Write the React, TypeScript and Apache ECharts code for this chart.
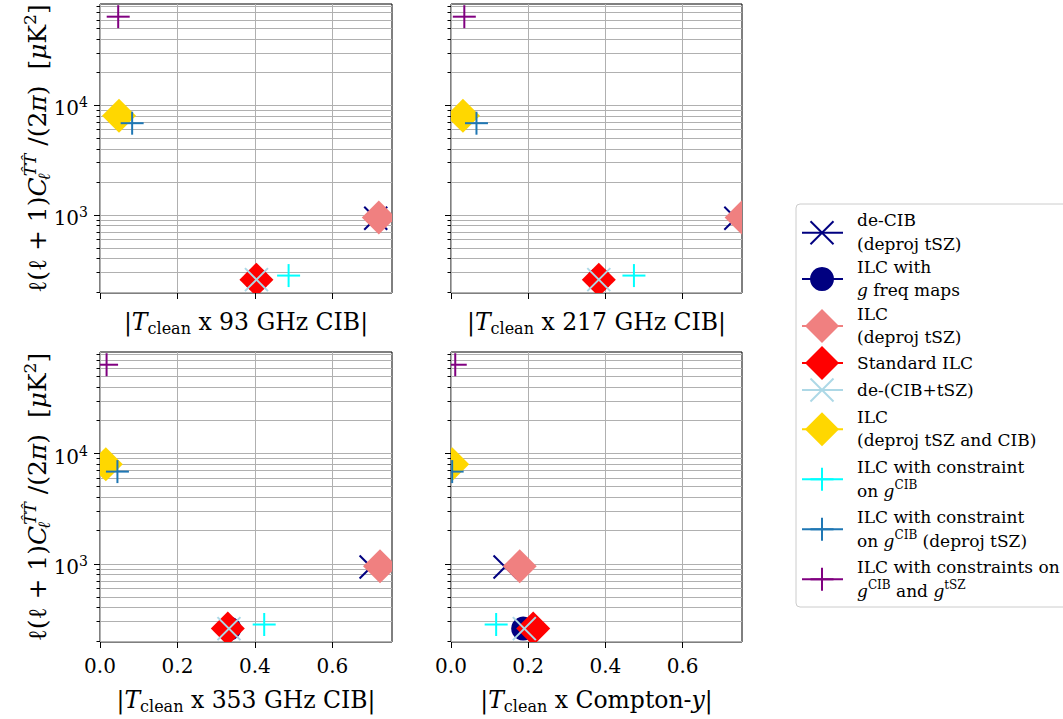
import React, { useEffect, useRef } from 'react';
import * as echarts from 'echarts';

// ---------------- data ----------------
const panelLabels = ['93 GHz CIB', '217 GHz CIB', '353 GHz CIB', 'Compton-y'];

const methodNames = [
  'de-CIB (deproj tSZ)',
  'ILC with g freq maps',
  'ILC (deproj tSZ)',
  'Standard ILC',
  'de-(CIB+tSZ)',
  'ILC (deproj tSZ and CIB)',
  'ILC with constraint on g^CIB',
  'ILC with constraint on g^CIB (deproj tSZ)',
  'ILC with constraints on g^CIB and g^tSZ',
];
const methodColors = ['#000080', '#000080', '#F08080', '#FF0000', '#ADD8E6', '#FFD700', '#00FFFF', '#1f77b4', '#800080'];
const methodMarkers = ['x', 'o', 'D', 'D', 'x', 'D', '+', '+', '+'];

// l(l+1)C_l/(2pi) of each method [uK^2]
const powerValues = [935, 258, 950, 258, 258, 8000, 281, 6860, 64000];

// |T_clean x tracer| for each panel, in method order
const x93 = [0.712, 0.404, 0.72, 0.404, 0.404, 0.049, 0.487, 0.083, 0.047];
const x217 = [0.738, 0.383, 0.753, 0.383, 0.383, 0.031, 0.474, 0.066, 0.0345];
const x353 = [0.7, 0.334, 0.723, 0.33, 0.333, 0.015, 0.424, 0.045, 0.017];
const xCompton = [0.14, 0.187, 0.178, 0.213, 0.19, 0.003, 0.117, 0.003, 0.011];
const panelX = [x93, x217, x353, xCompton];

const xTicks = [0, 0.2, 0.4, 0.6];
const yMajorTicks = [1000, 10000];
const yMinorTicks = [200, 300, 400, 500, 600, 700, 800, 900, 2000, 3000, 4000, 5000, 6000, 7000, 8000, 9000,
  20000, 30000, 40000, 50000, 60000, 70000, 80000];
const xMin = 0;
const xMax = 0.754;
const yMin = 195;
const yMax = 83500;

const legendLines = [
  ['{n|de-CIB}', '{n|(deproj tSZ)}'],
  ['{n|ILC with}', '{i|g}{n| freq maps}'],
  ['{n|ILC}', '{n|(deproj tSZ)}'],
  ['{n|Standard ILC}'],
  ['{n|de-(CIB+tSZ)}'],
  ['{n|ILC}', '{n|(deproj tSZ and CIB)}'],
  ['{n|ILC with constraint}', '{m|on }{mi|g}{sp|CIB}'],
  ['{n|ILC with constraint}', '{m|on }{mi|g}{sp|CIB}{m| (deproj tSZ)}'],
  ['{n|ILC with constraints on}', '{mi|g}{sp|CIB}{m| and }{mi|g}{sp|tSZ}'],
];

// ---------------- layout / style ----------------
const FF = 'DejaVu Serif';
const grids = [
  { left: 100, top: 4, width: 292, height: 289 },
  { left: 451, top: 4, width: 291, height: 289 },
  { left: 100, top: 352, width: 292, height: 290 },
  { left: 451, top: 352, width: 291, height: 290 },
];
const gridColor = '#b0b0b0';
const DIAMOND_HALF = 17;
const CIRCLE_R = 12;
const CROSS_HALF = 11.5;
const MARK_LW = 2;

function markerShape(mk: string, c: string, px: number, py: number) {
  if (mk === 'D') {
    const h = DIAMOND_HALF;
    return { type: 'polygon', shape: { points: [[px, py - h], [px + h, py], [px, py + h], [px - h, py]] }, style: { fill: c } };
  }
  if (mk === 'o') {
    return { type: 'circle', shape: { cx: px, cy: py, r: CIRCLE_R }, style: { fill: c } };
  }
  const h = CROSS_HALF;
  const st = { stroke: c, lineWidth: MARK_LW, fill: null };
  if (mk === 'x') {
    return {
      type: 'group',
      children: [
        { type: 'line', shape: { x1: px - h, y1: py - h, x2: px + h, y2: py + h }, style: st },
        { type: 'line', shape: { x1: px - h, y1: py + h, x2: px + h, y2: py - h }, style: st },
      ],
    };
  }
  return {
    type: 'group',
    children: [
      { type: 'line', shape: { x1: px, y1: py - h, x2: px, y2: py + h }, style: st },
      { type: 'line', shape: { x1: px - h, y1: py, x2: px + h, y2: py }, style: st },
    ],
  };
}

const tickRich = {
  b: { fontFamily: FF, fontSize: 20, lineHeight: 20, padding: [3, 0, 0, 0], verticalAlign: 'top', color: '#000' },
  s: { fontFamily: FF, fontSize: 14, lineHeight: 14, verticalAlign: 'top', color: '#000' },
};

const titleRich = {
  n: { fontFamily: FF, fontSize: 23.5, lineHeight: 23.5, verticalAlign: 'top', fill: '#000' },
  i: { fontFamily: FF, fontSize: 23.5, lineHeight: 23.5, verticalAlign: 'top', fontStyle: 'italic', fill: '#000' },
  sb: { fontFamily: FF, fontSize: 16, lineHeight: 16, padding: [10, 0, 0, 0], verticalAlign: 'top', fill: '#000' },
};

const ylabRich = {
  n: { fontFamily: FF, fontSize: 25, lineHeight: 25, padding: [3, 0, 0, 0], verticalAlign: 'top', fill: '#000' },
  i: { fontFamily: FF, fontSize: 25, lineHeight: 25, padding: [3, 0, 0, 0], verticalAlign: 'top', fontStyle: 'italic', fill: '#000' },
  sb: { fontFamily: FF, fontSize: 17, lineHeight: 17, padding: [14, 0, 0, 0], width: 1, verticalAlign: 'top', fontStyle: 'italic', fill: '#000' },
  sp: { fontFamily: FF, fontSize: 17, lineHeight: 17, verticalAlign: 'top', fontStyle: 'italic', fill: '#000' },
  sr: { fontFamily: FF, fontSize: 17, lineHeight: 17, verticalAlign: 'top', fill: '#000' },
};

const legendRich = {
  n: { fontFamily: FF, fontSize: 17, lineHeight: 17, verticalAlign: 'top', fill: '#000' },
  i: { fontFamily: FF, fontSize: 17, lineHeight: 17, verticalAlign: 'top', fontStyle: 'italic', fill: '#000' },
  m: { fontFamily: FF, fontSize: 17, lineHeight: 17, padding: [3, 0, 0, 0], verticalAlign: 'top', fill: '#000' },
  mi: { fontFamily: FF, fontSize: 17, lineHeight: 17, padding: [3, 0, 0, 0], verticalAlign: 'top', fontStyle: 'italic', fill: '#000' },
  sp: { fontFamily: FF, fontSize: 12, lineHeight: 12, verticalAlign: 'top', fill: '#000' },
};

function buildOption() {
  const grid = grids.map((g) => ({ ...g, show: true, borderColor: '#000', borderWidth: 1, backgroundColor: 'transparent' }));

  const xAxis = grids.map((_, p) => ({
    type: 'value',
    gridIndex: p,
    min: xMin,
    max: xMax,
    interval: 0.2,
    axisLine: { show: false },
    axisTick: { show: true, customValues: xTicks, length: 6, lineStyle: { color: '#000', width: 1 } },
    axisLabel: {
      show: p >= 2,
      customValues: xTicks,
      formatter: (v: number) => v.toFixed(1),
      fontFamily: FF,
      fontSize: 20,
      color: '#000',
      margin: 14,
    },
    splitLine: { show: true, lineStyle: { color: gridColor, width: 1 } },
  }));

  const yAxis: any[] = [];
  grids.forEach((_, p) => {
    yAxis.push({
      type: 'log',
      logBase: 10,
      gridIndex: p,
      position: 'left',
      min: yMin,
      max: yMax,
      axisLine: { show: false },
      axisTick: { show: true, customValues: yMajorTicks, length: 6, lineStyle: { color: '#000', width: 1 } },
      axisLabel: {
        show: p % 2 === 0,
        customValues: yMajorTicks,
        margin: 12,
        formatter: (v: number) => `{b|10}{s|${Math.round(Math.log10(v))}}`,
        rich: tickRich,
      },
      splitLine: { show: false },
      z: 3,
    });
    yAxis.push({
      type: 'log',
      logBase: 10,
      gridIndex: p,
      position: 'left',
      offset: 0,
      min: yMin,
      max: yMax,
      axisLine: { show: false },
      axisTick: { show: true, customValues: [...yMinorTicks, ...yMajorTicks], length: 3.5, lineStyle: { color: '#000', width: 1 } },
      axisLabel: { show: false },
      splitLine: { show: true, lineStyle: { color: gridColor, width: 1 } },
    });
  });

  const series: any[] = [];
  panelX.forEach((xs, p) => {
    methodNames.forEach((name, m) => {
      const mk = methodMarkers[m];
      const c = methodColors[m];
      series.push({
        type: 'custom',
        name,
        coordinateSystem: 'cartesian2d',
        xAxisIndex: p,
        yAxisIndex: p * 2,
        data: [[xs[m], powerValues[m]]],
        clip: true,
        silent: true,
        z: 2,
        renderItem: (_params: any, api: any) => {
          const pt = api.coord([api.value(0), api.value(1)]);
          return markerShape(mk, c, pt[0], pt[1]);
        },
      });
    });
  });

  // ---------- graphic: axis titles + legend ----------
  const graphic: any[] = [];
  const titleText = (lab: string) => {
    if (lab === 'Compton-y') return '{n|\u007C}{i|T}{sb|clean}{n| x Compton-}{i|y}{n|\u007C}';
    return `{n|\u007C}{i|T}{sb|clean}{n| x ${lab}\u007C}`;
  };
  const titleY = [322, 322, 700, 700];
  grids.forEach((g, p) => {
    graphic.push({
      type: 'text',
      x: g.left + g.width / 2,
      y: titleY[p],
      style: { text: titleText(panelLabels[p]), align: 'center', verticalAlign: 'middle', rich: titleRich, fontFamily: FF, fontSize: 23.5, fill: '#000' },
    });
  });
  const ylabText = '{n|\u2113(\u2113 + 1)}{i|C}{sb|\u2113}{sp|T\u0302T\u0302}{n| /(2}{i|\u03C0}{n|)  [}{i|\u03BC}{n|K}{sr|2}{n|]}';
  [grids[0], grids[2]].forEach((g) => {
    graphic.push({
      type: 'text',
      x: 34,
      y: g.top + g.height / 2,
      rotation: Math.PI / 2,
      style: { text: ylabText, align: 'center', verticalAlign: 'middle', rich: ylabRich, fontFamily: FF, fontSize: 25, fill: '#000' },
    });
  });

  // legend frame
  graphic.push({
    type: 'rect',
    shape: { x: 796, y: 204, width: 300, height: 403, r: 4 },
    style: { fill: 'rgba(255,255,255,0.8)', stroke: '#cccccc', lineWidth: 1 },
  });
  const markerCY = [232.7, 279, 326, 363, 390, 429.3, 479.3, 529.3, 579.3];
  const lineYs = [
    [220, 243.5], [267, 290], [313.5, 336.5], [363], [390], [417, 440], [467, 489], [517, 539], [567, 589],
  ];
  const mx = 822;
  methodNames.forEach((_, m) => {
    const c = methodColors[m];
    const cy = markerCY[m];
    const mk = methodMarkers[m];
    graphic.push({ type: 'line', shape: { x1: 802, y1: cy, x2: 843, y2: cy }, style: { stroke: c, lineWidth: 2 } });
    graphic.push(markerShape(mk, c, mx, cy));
    legendLines[m].forEach((txt, k) => {
      const hasSup = txt.indexOf('{sp|') >= 0;
      graphic.push({
        type: 'text',
        x: 857,
        y: lineYs[m][k] - (hasSup ? 1.5 : 0),
        style: { text: txt, align: 'left', verticalAlign: 'middle', rich: legendRich, fontFamily: FF, fontSize: 17, fill: '#000' },
      });
    });
  });

  return {
    animation: false,
    backgroundColor: '#ffffff',
    grid,
    xAxis,
    yAxis,
    series,
    graphic,
  };
}

export default function App() {
  const ref = useRef<HTMLDivElement>(null);
  useEffect(() => {
    if (!ref.current) return;
    const chart = echarts.init(ref.current, null, { renderer: 'svg' });
    chart.setOption(buildOption() as any);
    return () => chart.dispose();
  }, []);
  return <div ref={ref} style={{ position: 'absolute', left: 0, top: 0, width: 1063, height: 719 }} />;
}
